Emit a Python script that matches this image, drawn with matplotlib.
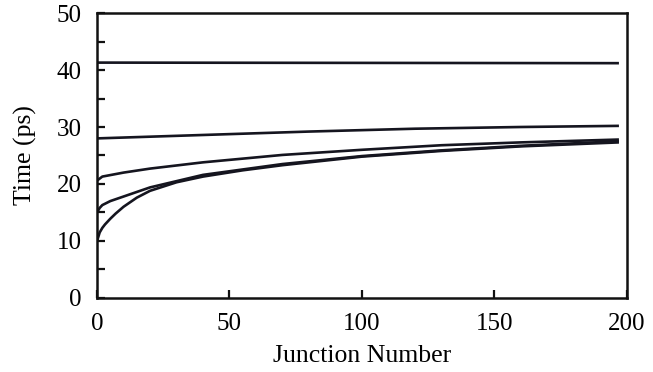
import matplotlib
matplotlib.use("Agg")
import matplotlib.pyplot as plt
from matplotlib.ticker import MultipleLocator

plt.rcParams['font.family'] = ['Liberation Serif', 'DejaVu Serif']

# Delay versus junction number for several configurations
x_a = [0, 197]
y_a = [41.3, 41.2]

x_b = [0, 40, 80, 120, 160, 197]
y_b = [28.0, 28.6, 29.2, 29.7, 30.0, 30.2]

x_c = [0, 2, 10, 20, 40, 70, 100, 130, 160, 197]
y_c = [20.6, 21.3, 22.0, 22.7, 23.8, 25.1, 26.0, 26.8, 27.3, 27.8]

x_d = [0, 1, 2, 5, 10, 20, 40, 70, 100, 130, 160, 197]
y_d = [15.0, 15.8, 16.3, 17.0, 17.8, 19.4, 21.6, 23.5, 24.9, 25.9, 26.7, 27.5]

x_e = [0, 1, 2, 3, 5, 7, 10, 15, 20, 30, 40, 55, 70, 100, 130, 160, 197]
y_e = [10.0, 11.5, 12.3, 12.9, 13.9, 14.8, 16.0, 17.6, 18.8, 20.3, 21.3, 22.4, 23.3, 24.8, 25.8, 26.6, 27.3]

x_ticks = [0, 50, 100, 150, 200]
y_ticks = [0, 10, 20, 30, 40, 50]

fig = plt.figure(figsize=(6.53, 3.72), dpi=100)
ax = fig.add_axes([0.1486, 0.199, 0.8114, 0.766])

line_color = '#15151f'
for xs, ys in [(x_a, y_a), (x_b, y_b), (x_c, y_c), (x_d, y_d), (x_e, y_e)]:
    ax.plot(xs, ys, color=line_color, lw=1.9, solid_capstyle='butt')

ax.set_xlim(0, 200)
ax.set_ylim(0, 50)
ax.set_xticks(x_ticks)
ax.set_yticks(y_ticks)
ax.yaxis.set_minor_locator(MultipleLocator(5))

ax.tick_params(axis='both', which='both', direction='in', labelsize=18,
               width=1.6, color='#111111')
ax.tick_params(axis='x', which='major', length=6, pad=11)
ax.tick_params(axis='y', which='major', length=6, pad=11)
ax.tick_params(axis='y', which='minor', length=6)

for sp in ax.spines.values():
    sp.set_linewidth(1.8)
    sp.set_color('#111111')

ax.set_xlabel('Junction Number', fontsize=18.5, labelpad=7)
ax.set_ylabel('Time (ps)', fontsize=18.5, labelpad=14)

fig.savefig('out.png', dpi=100)
